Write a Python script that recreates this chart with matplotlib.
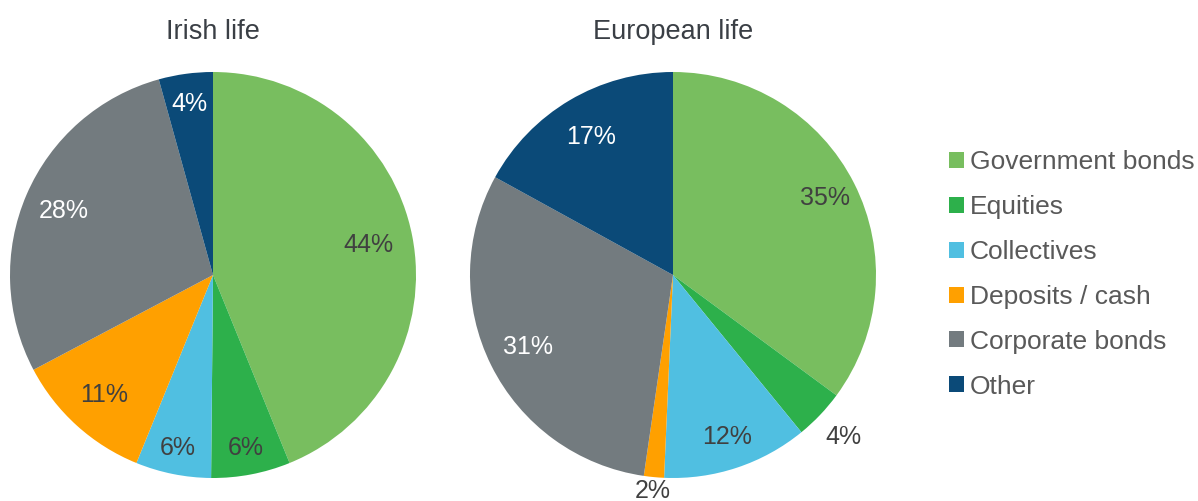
import matplotlib
matplotlib.use("Agg")
import matplotlib.pyplot as plt
from matplotlib.patches import Patch
import numpy as np

plt.rcParams['font.family'] = ['Liberation Sans', 'DejaVu Sans']

categories = ["Government bonds", "Equities", "Collectives", "Deposits / cash", "Corporate bonds", "Other"]
# shares (%); labels show them rounded
irish_values = [43.8, 6.3, 6.0, 11.1, 28.4, 4.3]
european_values = [35.1, 4.0, 11.6, 1.6, 30.7, 17.0]
titles = ["Irish life", "European life"]

colors = ["#78BE5F", "#2DB04B", "#50BFE1", "#FFA000", "#737B7F", "#0B4A78"]
label_colors = ["#404040", "#404040", "#404040", "#404040", "#FFFFFF", "#FFFFFF"]
irish_dist = [0.78, 0.87, 0.87, 0.80, 0.80, 0.85]
euro_dist = [0.84, 1.16, 0.84, 1.07, 0.80, 0.79]

W, H = 1198, 501
fig = plt.figure(figsize=(W / 100, H / 100), dpi=100)

R = 203
centers = [(213, 275), (673, 275)]

def draw(center, values, dists, title):
    cx, cy = center
    ax = fig.add_axes([(cx - R) / W, (H - cy - R) / H, 2 * R / W, 2 * R / H])
    wedges, _ = ax.pie(values, colors=colors, startangle=90, counterclock=False,
                       radius=1.0, wedgeprops=dict(linewidth=0))
    ax.set_xlim(-1, 1)
    ax.set_ylim(-1, 1)
    for w, v, d, c in zip(wedges, values, dists, label_colors):
        ang = np.deg2rad((w.theta1 + w.theta2) / 2)
        col = c if d < 1 else "#404040"
        ax.text(d * np.cos(ang), d * np.sin(ang), f"{v:.0f}%", ha='center', va='center',
                fontsize=18, color=col)
    ax.text(0, 1.195, title, ha='center', va='center', fontsize=19.5, color="#3A3F45")
    return ax

draw(centers[0], irish_values, irish_dist, titles[0])
draw(centers[1], european_values, euro_dist, titles[1])

handles = [Patch(facecolor=c, edgecolor='none') for c in colors]
fig.legend(handles, categories, loc='center left', bbox_to_anchor=(949 / W, (H - 274.5) / H),
           frameon=False, fontsize=19, labelcolor="#595959", borderpad=0, borderaxespad=0,
           handlelength=0.55, handleheight=0.55, handletextpad=0.25, labelspacing=0.79)

fig.savefig("out.png", dpi=100)
